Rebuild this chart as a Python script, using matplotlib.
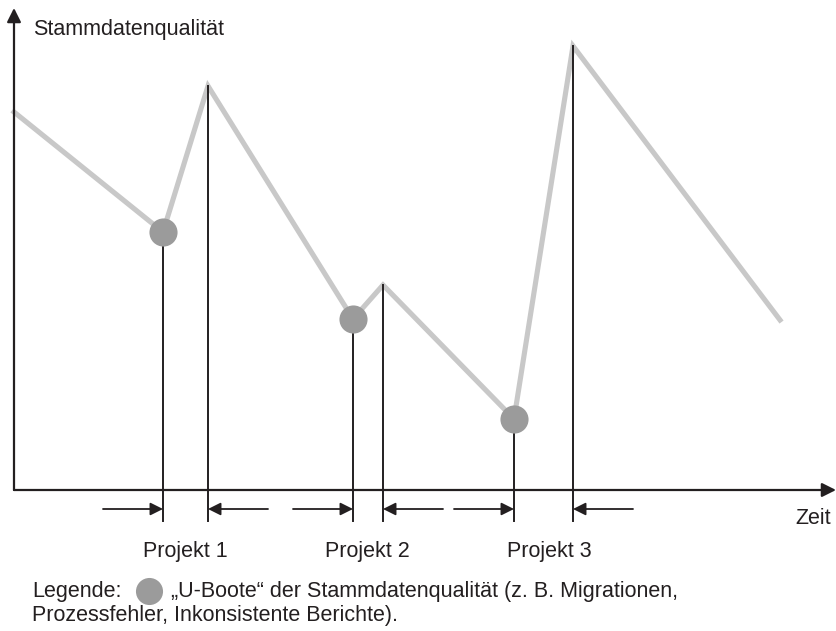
import matplotlib.pyplot as plt
from matplotlib.lines import Line2D

plt.rcParams['font.family'] = ['Liberation Sans', 'DejaVu Sans']

# quality curve (time, quality), arbitrary units
zeit = [0, 149, 194, 339, 369, 500, 559, 766]
qualitaet = [378, 258, 404, 171, 205, 71, 444, 170]

# "U-Boote" (drops in quality)
uboot_t = [149, 339, 500]
uboot_q = [258, 171, 71]

# project start / end
projekt_start = [149, 339, 500]
projekt_ende = [194, 369, 559]
projekt_start_q = [258, 171, 71]
projekt_ende_q = [404, 205, 444]
projekt_namen = ['Projekt 1', 'Projekt 2', 'Projekt 3']
projekt_label_t = [171, 353, 535]

line_grey = '#c8c8c8'
dot_grey = '#9b9b9b'
ink = '#231f20'
fs = 15.5

fig = plt.figure(figsize=(8.36, 6.31), dpi=100)
W, H = 836, 631
x0, y0 = 14, 490
ax = fig.add_axes([x0 / W, (H - y0) / H, (W - x0) / W, (y0 - 8) / H])
ax.set_xlim(0, W - x0)
ax.set_ylim(0, y0 - 8)
ax.axis('off')

# axes with arrows
for tip in [(0, 1), (1, 0)]:
    ax.annotate('', xy=tip, xytext=(0, 0), xycoords='axes fraction',
                arrowprops=dict(arrowstyle='-|>', color=ink, lw=1.6,
                                mutation_scale=21, shrinkA=0, shrinkB=0))

ax.plot(zeit, qualitaet, color=line_grey, lw=3.7, solid_joinstyle='miter',
        clip_on=False, zorder=2)

# vertical lines at start/end of projects
for t, q in zip(projekt_start + projekt_ende, projekt_start_q + projekt_ende_q):
    ax.plot([t, t], [-31, q], color=ink, lw=1.4, clip_on=False, zorder=3)

ax.scatter(uboot_t, uboot_q, s=410, color=dot_grey, zorder=4, clip_on=False,
           linewidths=0)

# duration arrows below the axis
for ts, te, lt, name in zip(projekt_start, projekt_ende, projekt_label_t,
                            projekt_namen):
    ax.annotate('', xy=(ts, -19), xytext=(ts - 60, -19),
                arrowprops=dict(arrowstyle='-|>', color=ink, lw=1.3,
                                mutation_scale=19, shrinkA=0, shrinkB=0),
                annotation_clip=False)
    ax.annotate('', xy=(te, -19), xytext=(te + 60, -19),
                arrowprops=dict(arrowstyle='-|>', color=ink, lw=1.3,
                                mutation_scale=19, shrinkA=0, shrinkB=0),
                annotation_clip=False)
    ax.text(lt, -61, name, ha='center', va='center',
            fontsize=fs, color=ink, clip_on=False)

ax.text(817, -28, 'Zeit', ha='right', va='center', fontsize=fs,
        color=ink, clip_on=False)
ax.text(19, y0 - 30, 'Stammdatenqualität', ha='left', va='center',
        fontsize=fs, color=ink, clip_on=False)

# legend text
fig.text(32 / W, 1 - 591 / H, 'Legende:', ha='left', va='center',
         fontsize=fs, color=ink)
fig.text(171 / W, 1 - 591 / H,
         '„U-Boote“ der Stammdatenqualität (z. B. Migrationen,',
         ha='left', va='center', fontsize=fs, color=ink)
fig.text(32 / W, 1 - 616 / H, 'Prozessfehler, Inkonsistente Berichte).',
         ha='left', va='center', fontsize=fs, color=ink)
fig.add_artist(Line2D([149 / W], [1 - 591 / H], transform=fig.transFigure,
                      marker='o', markersize=19.5, color=dot_grey,
                      markeredgewidth=0, linestyle='none'))

fig.savefig('out.png', dpi=100)
